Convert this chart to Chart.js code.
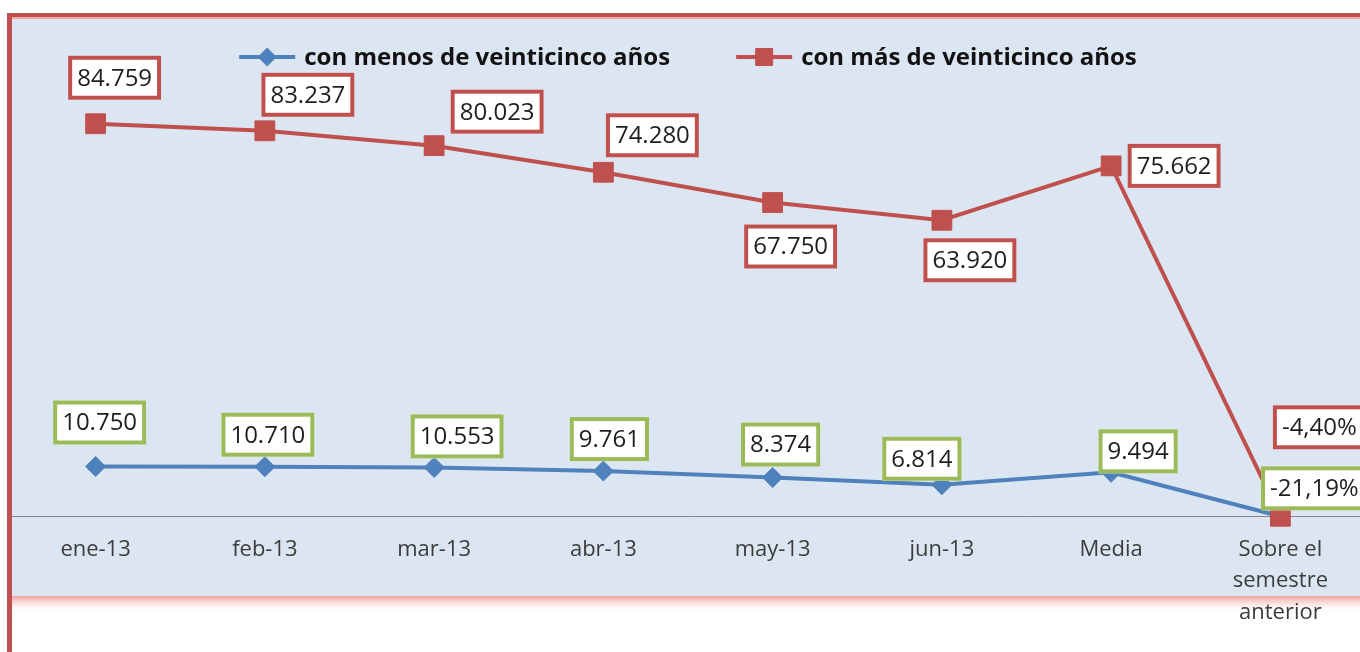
<!DOCTYPE html>
<html>
<head>
<meta charset="utf-8">
<title>Parados por edad</title>
<script src="https://cdn.jsdelivr.net/npm/chart.js@4.4.1/dist/chart.umd.min.js"></script>
<style>
  html, body { margin: 0; padding: 0; overflow: hidden; background: #fff; }
  #wrap { position: absolute; left: -4px; top: 0; width: 1384px; height: 652px; }
</style>
</head>
<body>
<div id="wrap"><canvas id="edadChart" width="1384" height="652"></canvas></div>
<script>
// Categories (x axis)
const categories = ["ene-13", "feb-13", "mar-13", "abr-13", "may-13", "jun-13", "Media", ["Sobre el", "semestre", "anterior"]];

// Series values (last point is the change vs previous semester, as a fraction)
const menos25 = [10750, 10710, 10553, 9761, 8374, 6814, 9494, -0.2119];
const mas25 = [84759, 83237, 80023, 74280, 67750, 63920, 75662, -0.044];

const seriesNames = ["con menos de veinticinco años", "con más de veinticinco años"];

// Y range (axis is hidden)
const yMin = 0;
const yMax = 105000;

// Where each value box sits relative to its point (layout only)
const menos25LabelOffsets = [[4, -44], [3, -32], [23, -31], [6, -32], [8, -33], [-20, -26], [27, -21], [34, -28]];
const mas25LabelOffsets = [[19, -46], [43, -36], [63, -34], [49, -37], [18, 44], [28, 40], [63, 0], [39, -89]];

// canvas sits 4px left of the page edge
const shiftX = 4;

// 10750 -> "10.750", -0.2119 -> "-21,19%"
function formatValue(v) {
  if (Math.abs(v) < 1) {
    return (v * 100).toFixed(2).replace(".", ",") + "%";
  }
  return String(v).replace(/\B(?=(\d{3})+(?!\d))/g, ".");
}

// Panel background and red frame
const panelPlugin = {
  id: "panelBackground",
  beforeDraw(chart) {
    const ctx = chart.ctx;
    const w = chart.width;
    const h = chart.height;
    ctx.save();
    ctx.translate(shiftX, 0);
    ctx.fillStyle = "#ffffff";
    ctx.fillRect(-shiftX, 0, w, h);
    ctx.fillStyle = "#dce6f2";
    ctx.fillRect(12, 18, w - 12, 578);
    // pink shadow under the panel
    const g = ctx.createLinearGradient(0, 596, 0, 613);
    g.addColorStop(0, "rgba(240,140,140,0.85)");
    g.addColorStop(1, "rgba(255,255,255,0)");
    ctx.fillStyle = g;
    ctx.fillRect(12, 596, w - 12, 17);
    // frame
    ctx.fillStyle = "#c0504d";
    ctx.fillRect(7, 13, w - 7, 4);
    ctx.fillRect(7, 13, 5, h - 13);
    ctx.fillStyle = "#f0a8a6";
    ctx.fillRect(12, 17, w - 12, 2);
    ctx.restore();
  },
};

function drawMarker(ctx, style, r, x, y) {
  ctx.beginPath();
  if (style === "rect") {
    const s = r * Math.SQRT1_2;
    ctx.rect(x - s, y - s, 2 * s, 2 * s);
  } else {
    ctx.moveTo(x, y - r);
    ctx.lineTo(x + r, y);
    ctx.lineTo(x, y + r);
    ctx.lineTo(x - r, y);
    ctx.closePath();
  }
  ctx.fill();
  ctx.stroke();
}

// Boxed value labels
const boxLabelPlugin = {
  id: "boxLabels",
  afterDatasetsDraw(chart) {
    const ctx = chart.ctx;
    ctx.save();
    ctx.font = "24px 'Open Sans'";
    ctx.textAlign = "center";
    ctx.textBaseline = "middle";
    chart.data.datasets.forEach((ds, i) => {
      const meta = chart.getDatasetMeta(i);
      meta.data.forEach((pt, j) => {
        const text = formatValue(ds.data[j]);
        const off = ds.labelOffsets[j];
        const cx = pt.x + off[0];
        const cy = pt.y + off[1];
        const bw = ctx.measureText(text).width + 18;
        const bh = 44;
        ctx.fillStyle = "#ffffff";
        ctx.fillRect(cx - bw / 2, cy - bh / 2, bw, bh);
        ctx.lineWidth = 4;
        ctx.strokeStyle = ds.labelBorder;
        ctx.strokeRect(cx - bw / 2 + 2, cy - bh / 2 + 2, bw - 4, bh - 4);
        ctx.fillStyle = "#1e1e1e";
        ctx.fillText(text, cx, cy + 1);
      });
    });
    ctx.restore();
  },
};

// Legend with line + marker swatches
const lineLegendPlugin = {
  id: "lineLegend",
  afterDraw(chart) {
    const ctx = chart.ctx;
    const items = chart.data.datasets;
    const swatch = 56;
    const gap = 9;
    const spacing = 66;
    const y = 57;
    ctx.save();
    ctx.font = "bold 24px 'Open Sans'";
    ctx.textBaseline = "middle";
    ctx.textAlign = "left";
    const widths = items.map((ds) => ctx.measureText(ds.label).width);
    const total = widths.reduce((a, b) => a + b + swatch + gap, 0) + spacing * (items.length - 1);
    let x = 688 + shiftX - total / 2;
    items.forEach((ds, k) => {
      ctx.strokeStyle = ds.borderColor;
      ctx.lineWidth = 4;
      ctx.beginPath();
      ctx.moveTo(x, y);
      ctx.lineTo(x + swatch, y);
      ctx.stroke();
      ctx.fillStyle = ds.pointBackgroundColor;
      ctx.strokeStyle = ds.pointBorderColor;
      ctx.lineWidth = 1;
      drawMarker(ctx, ds.pointStyle, ds.legendRadius, x + swatch / 2, y);
      ctx.fillStyle = "#111111";
      ctx.fillText(ds.label, x + swatch + gap, y + 1);
      x += swatch + gap + widths[k] + spacing;
    });
    ctx.restore();
  },
};

const ctx = document.getElementById("edadChart").getContext("2d");
const edadChart = new Chart(ctx, {
  type: "line",
  data: {
    labels: categories,
    datasets: [
      {
        label: seriesNames[0],
        data: menos25,
        borderColor: "#4f81bd",
        backgroundColor: "#4f81bd",
        pointBackgroundColor: "#4f81bd",
        pointBorderColor: "#4f81bd",
        borderWidth: 4,
        pointStyle: "rectRot",
        pointRadius: 10,
        pointBorderWidth: 1,
        legendRadius: 9,
        tension: 0,
        clip: false,
        order: 1,
        labelOffsets: menos25LabelOffsets,
        labelBorder: "#9bbb59",
      },
      {
        label: seriesNames[1],
        data: mas25,
        borderColor: "#c0504d",
        backgroundColor: "#c0504d",
        pointBackgroundColor: "#c0504d",
        pointBorderColor: "#c0504d",
        borderWidth: 4,
        pointStyle: "rect",
        pointRadius: 14,
        pointBorderWidth: 1,
        legendRadius: 12,
        tension: 0,
        clip: false,
        order: 0,
        labelOffsets: mas25LabelOffsets,
        labelBorder: "#c0504d",
      },
    ],
  },
  options: {
    responsive: false,
    animation: false,
    layout: {
      padding: { top: 30, left: 2, right: 0, bottom: 6 },
    },
    plugins: {
      legend: { display: false },
      tooltip: { enabled: false },
    },
    scales: {
      x: {
        offset: true,
        grid: { display: false, drawTicks: false },
        border: { display: true, color: "#868686", width: 1 },
        ticks: {
          color: "#3c3c3c",
          font: { family: "'Open Sans'", size: 22, lineHeight: 1.45 },
          padding: 17,
          autoSkip: false,
          maxRotation: 0,
        },
      },
      y: {
        display: false,
        min: yMin,
        max: yMax,
      },
    },
  },
  plugins: [panelPlugin, boxLabelPlugin, lineLegendPlugin],
});
</script>
</body>
</html>
